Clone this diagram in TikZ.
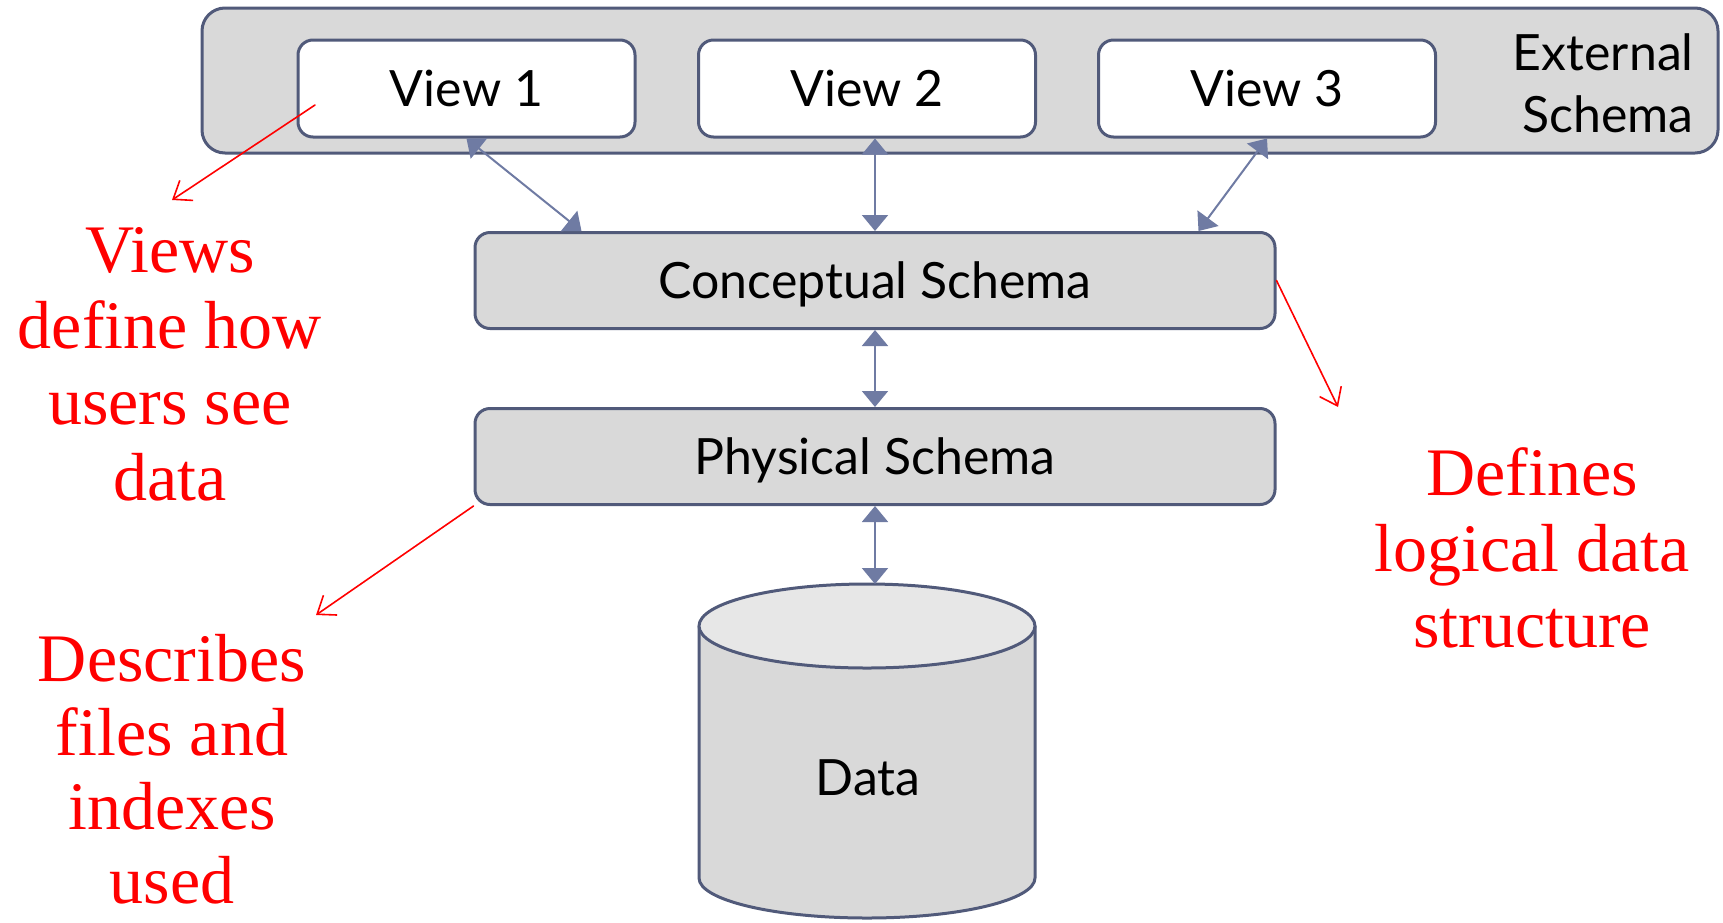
\documentclass[tikz,border=0pt]{standalone}
\usepackage{fontspec}
\setsansfont{Lato}
\newfontfamily\notefamily{Liberation Serif}
\usepackage{xcolor}
\usepackage{tikz}
\usetikzlibrary{arrows.meta}
\definecolor{boxline}{HTML}{515A7A}
\definecolor{linkblue}{HTML}{6F7BA3}
\definecolor{boxgray}{HTML}{D9D9D9}
\definecolor{topgray}{HTML}{E7E7E7}
\newcommand{\notefont}{\notefamily\fontsize{34}{38}\selectfont}
\newcommand{\boxfont}{\sffamily\fontsize{25}{31}\selectfont}

\begin{document}
\begin{tikzpicture}[line cap=round,line join=round,x=0.5pt,y=-0.5pt,
	schemabox/.style={draw=boxline,line width=1.5pt,fill=boxgray,rounded corners=7.5pt,inner sep=0pt,minimum width=400pt,minimum height=48pt,text height=18pt,text depth=0pt,font=\boxfont},
	viewbox/.style={schemabox,fill=white,minimum width=168.5pt,minimum height=48.5pt},
	link/.style={linkblue,line width=1pt,{Triangle[length=8pt,width=13pt]}-{Triangle[length=8pt,width=13pt]}},
	note/.style={red,line width=0.8pt,-{Straight Barb[length=8pt,width=12pt]}},
	notetext/.style={red,align=center,inner sep=0pt,anchor=north,font=\notefont}]
			\useasboundingbox (0,0) rectangle (1723,922);
			% external level
			\node[draw=boxline,line width=1.5pt,fill=boxgray,rounded corners=11.5pt,minimum width=758pt,minimum height=72.5pt] (external) at (960,80.5) {};
			\node[viewbox] (view1) at (466.5,88.5) {View 1};
			\node[viewbox] (view2) at (867,88.5) {View 2};
			\node[viewbox] (view3) at (1267,88.5) {View 3};
			\node[align=right,anchor=east,inner sep=0pt,font=\boxfont] (exttext) at (1694,83) {External\\Schema};
			% conceptual and physical level
			\node[schemabox] (concept) at (875,280.5) {Conceptual Schema};
			\node[schemabox] (phys) at (875,456.5) {Physical Schema};
			% data store
			\filldraw[draw=boxline,fill=boxgray,line width=1.5pt] (699,626) -- (699,878) arc[start angle=180,end angle=360,x radius=84pt,y radius=20pt] -- (1035,626) -- cycle;
			\filldraw[draw=boxline,fill=topgray,line width=1.5pt] (867,626) ellipse[x radius=84pt,y radius=21pt];
			\coordinate (dbtop) at (875,584);
			\node[font=\boxfont,text height=18pt,text depth=0pt] (data) at (868,777) {Data};
			% mappings
			\draw[link] (view1.south) -- ([xshift=54pt]concept.north west);
			\draw[link] (concept.north |- view2.south) -- (concept.north);
			\draw[link] (view3.south) -- ([xshift=-39pt]concept.north east);
			\draw[link] (concept.south) -- (phys.north);
			\draw[link] (phys.south) -- (dbtop);
			% notes
			\coordinate (v1from) at (315,105);
			\coordinate (v1to) at (172,200);
			\coordinate (cto) at (1338,407);
			\coordinate (pto) at (316,615);
			\draw[note] (v1from) -- (v1to);
			\draw[note] (concept.east) -- (cto);
			\draw[note] (phys.south west) -- (pto);
			\node[notetext] (viewsnote) at (170,227) {Views\\define how\\users see\\data};
			\node[notetext] (conceptnote) at (1532,447) {Defines\\logical data\\structure};
			\node[notetext,text depth=0pt,font=\notefamily\fontsize{34}{37}\selectfont] (physnote) at (172,634) {Describes\\files and\\indexes\\used};
\end{tikzpicture}
\end{document}
